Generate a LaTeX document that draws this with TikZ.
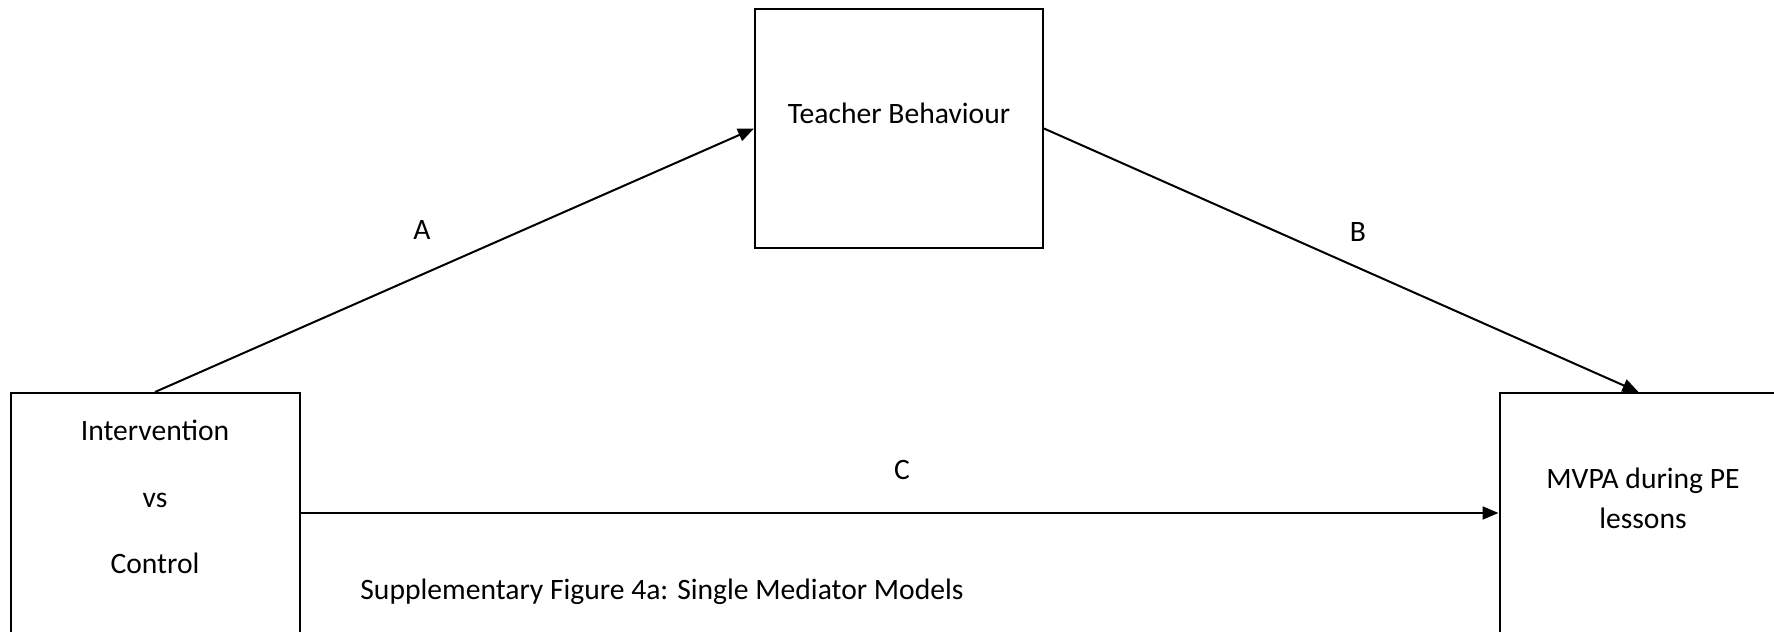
\documentclass[tikz,border=0pt]{standalone}
\usepackage{fontspec}
\setmainfont{Carlito}
\usetikzlibrary{arrows.meta}
\begin{document}
\begin{tikzpicture}[x=0.5pt,y=-0.5pt,
  box/.style={draw, line width=1pt, minimum width=#1, inner sep=0pt},
  lbl/.style={font=\fontsize{14.8}{20}\selectfont, inner sep=0pt},
  conn/.style={line width=1pt, -{Triangle[length=8pt,width=6.5pt]}}]
\useasboundingbox (0,0) rectangle (1774,632);
\clip (0,0) rectangle (1774,632);
\fill[white] (0,0) rectangle (1774,632);
\node[box=144pt, minimum height=119.5pt] (tb) at (899,128.5) {};
\node[box=144.5pt, minimum height=120pt] (iv) at (155,513) {};
\node[box=139pt, minimum height=120pt] (mv) at (1638.5,513) {};
\node[lbl] (tbt) at (899,113) {Teacher Behaviour};
\node[lbl] (iv1) at (155,430) {Intervention};
\node[lbl] (iv2) at (155,500) {vs};
\node[lbl] (iv3) at (155,563) {Control};
\node[lbl, align=center] (mvt) at (1643,498) {MVPA during PE\\lessons};
\draw[conn] (iv.north) -- (tb.west);
\draw[conn] (tb.east) -- (mv.north);
\draw[conn] (iv.east) -- (mv.west);
\node[lbl] (la) at (422,230) {A};
\node[lbl] (lb) at (1358,232) {B};
\node[lbl] (lc) at (902,470) {C};
\node[lbl, anchor=west] (cap) at (360,592) {Supplementary Figure 4a: Single Mediator Models};
\end{tikzpicture}
\end{document}
